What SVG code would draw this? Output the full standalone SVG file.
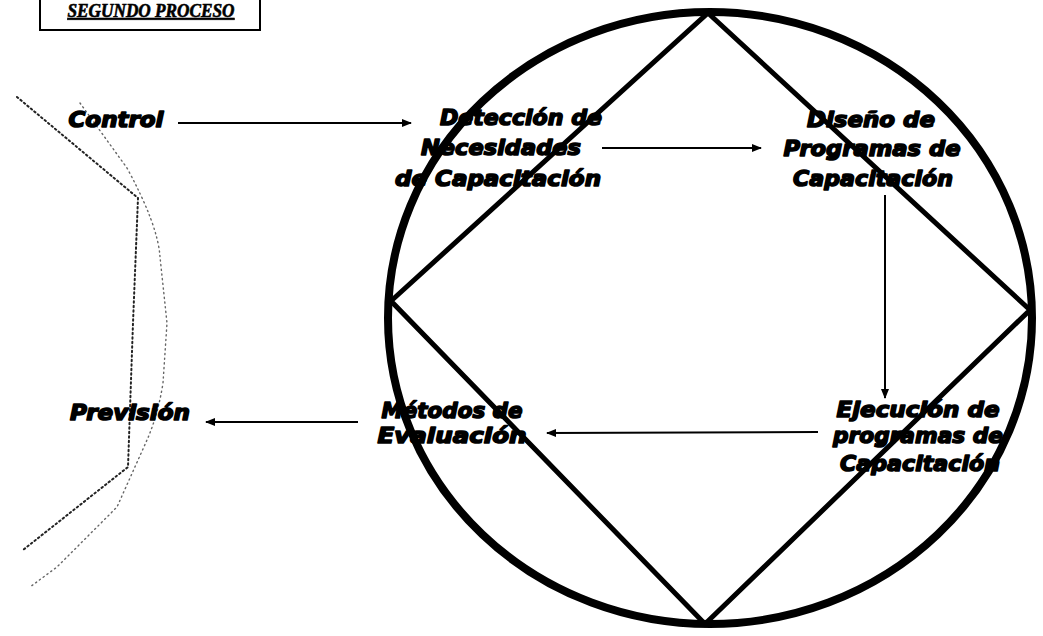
<svg xmlns="http://www.w3.org/2000/svg" width="1043" height="636" viewBox="0 0 1043 636">
<style>
.lbl{font-family:"DejaVu Sans","Liberation Sans",sans-serif;font-weight:bold;font-style:italic;font-size:22px;fill:#000;stroke:#000;stroke-width:1.6;stroke-linejoin:round;text-anchor:middle;}
.con{stroke:#000;stroke-width:2;fill:none;}
.dot1{stroke:#222;stroke-width:2;fill:none;stroke-dasharray:1.5 3;stroke-linecap:round;}
.dot2{stroke:#666;stroke-width:1.4;fill:none;stroke-dasharray:1.2 3.5;stroke-linecap:round;}
</style>
<defs>
<marker id="ah" viewBox="0 0 10 10" refX="9" refY="5" markerWidth="5" markerHeight="5" orient="auto">
<path d="M0,1 L10,5 L0,9 z" fill="#000"/>
</marker>
</defs>
<rect width="1043" height="636" fill="#fff"/>
<g id="title">
<rect x="40" y="-5" width="220" height="35" fill="none" stroke="#000" stroke-width="2"/>
<text x="151" y="17" font-family="Liberation Serif,serif" font-weight="bold" font-style="italic" font-size="18" text-anchor="middle" text-decoration="underline" stroke="#000" stroke-width="0.6" textLength="167" lengthAdjust="spacingAndGlyphs">SEGUNDO PROCESO</text>
</g>
<g id="decor">
<path class="dot1" d="M17,97 L138,198 L133,323 L128,467 L23,550"/>
<path class="dot2" d="M80,103 L127,168 Q158,225 160,257 L167,323 L163,383 Q158,415 147,440 L117,507 L57,567 L30,587"/>
</g>
<g id="cycle">
<ellipse cx="710" cy="318" rx="322" ry="306" fill="none" stroke="#000" stroke-width="8"/>
<path d="M708,13 L1030,310 L705,624 L391,301 Z" fill="none" stroke="#000" stroke-width="5" stroke-linejoin="miter"/>
</g>
<g id="connectors">
<line class="con" x1="178" y1="123" x2="411" y2="123" marker-end="url(#ah)"/>
<line class="con" x1="602" y1="148" x2="761" y2="148" marker-end="url(#ah)"/>
<line class="con" x1="885" y1="195" x2="885" y2="398" marker-end="url(#ah)"/>
<line class="con" x1="818" y1="432" x2="547" y2="433" marker-end="url(#ah)"/>
<line class="con" x1="358" y1="422" x2="206" y2="422" marker-end="url(#ah)"/>
</g>
<g id="n-control"><text class="lbl" x="116" y="127" textLength="95" lengthAdjust="spacingAndGlyphs">Control</text></g>
<g id="n-deteccion">
<text class="lbl" x="521" y="125" textLength="162" lengthAdjust="spacingAndGlyphs">Detección de</text>
<text class="lbl" x="501" y="155" textLength="160" lengthAdjust="spacingAndGlyphs">Necesidades</text>
<text class="lbl" x="498" y="186" textLength="206" lengthAdjust="spacingAndGlyphs">de Capacitación</text>
</g>
<g id="n-diseno">
<text class="lbl" x="871" y="127" textLength="128" lengthAdjust="spacingAndGlyphs">Diseño de</text>
<text class="lbl" x="872" y="156" textLength="177" lengthAdjust="spacingAndGlyphs">Programas de</text>
<text class="lbl" x="873" y="186" textLength="160" lengthAdjust="spacingAndGlyphs">Capacitación</text>
</g>
<g id="n-ejecucion">
<text class="lbl" x="918" y="417" textLength="163" lengthAdjust="spacingAndGlyphs">Ejecución de</text>
<text class="lbl" x="918" y="443" textLength="170" lengthAdjust="spacingAndGlyphs">programas de</text>
<text class="lbl" x="920" y="471" textLength="160" lengthAdjust="spacingAndGlyphs">Capacitación</text>
</g>
<g id="n-metodos">
<text class="lbl" x="452" y="418" textLength="141" lengthAdjust="spacingAndGlyphs">Métodos de</text>
<text class="lbl" x="452" y="443" textLength="149" lengthAdjust="spacingAndGlyphs">Evaluación</text>
</g>
<g id="n-prevision"><text class="lbl" x="130" y="420" textLength="120" lengthAdjust="spacingAndGlyphs">Previsión</text></g>
</svg>
